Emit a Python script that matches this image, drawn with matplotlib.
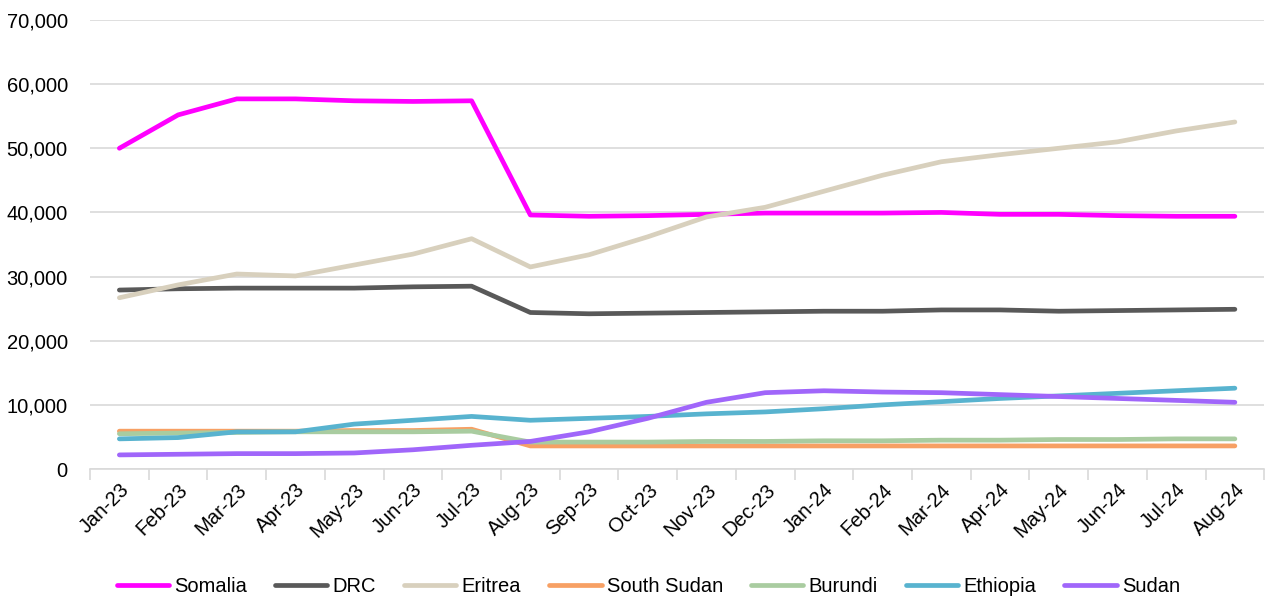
import numpy as np
import matplotlib.pyplot as plt
from matplotlib.ticker import FuncFormatter, FixedLocator

plt.rcParams['font.family'] = ['Liberation Sans', 'DejaVu Sans']

months = ['Jan-23', 'Feb-23', 'Mar-23', 'Apr-23', 'May-23', 'Jun-23', 'Jul-23',
          'Aug-23', 'Sep-23', 'Oct-23', 'Nov-23', 'Dec-23', 'Jan-24', 'Feb-24',
          'Mar-24', 'Apr-24', 'May-24', 'Jun-24', 'Jul-24', 'Aug-24']

somalia = [50000, 55200, 57700, 57700, 57400, 57300, 57400, 39600, 39400, 39500,
           39700, 39900, 39900, 39900, 40000, 39700, 39700, 39500, 39400, 39400]
drc = [27900, 28100, 28200, 28200, 28200, 28400, 28500, 24400, 24200, 24300,
       24400, 24500, 24600, 24600, 24800, 24800, 24600, 24700, 24800, 24900]
eritrea = [26700, 28700, 30400, 30100, 31800, 33500, 35900, 31500, 33400, 36200,
           39300, 40800, 43300, 45800, 47900, 49000, 50000, 51000, 52700, 54100]
south_sudan = [5900, 5900, 5900, 5900, 6000, 6000, 6200, 3600, 3600, 3600,
               3600, 3600, 3600, 3600, 3600, 3600, 3600, 3600, 3600, 3600]
burundi = [5500, 5600, 5700, 5800, 5800, 5800, 5900, 4200, 4200, 4200,
           4300, 4300, 4400, 4400, 4500, 4500, 4600, 4600, 4700, 4700]
ethiopia = [4700, 4900, 5800, 5800, 7000, 7600, 8200, 7600, 7900, 8200,
            8600, 8900, 9400, 10000, 10500, 11000, 11400, 11800, 12200, 12600]
sudan = [2200, 2300, 2400, 2400, 2500, 3000, 3700, 4300, 5800, 7900,
         10400, 11900, 12200, 12000, 11900, 11600, 11300, 11000, 10700, 10400]

series = [
    ('Somalia', somalia, '#ff00ff'),
    ('DRC', drc, '#595959'),
    ('Eritrea', eritrea, '#d8d0bd'),
    ('South Sudan', south_sudan, '#f7a064'),
    ('Burundi', burundi, '#a9cca0'),
    ('Ethiopia', ethiopia, '#58b3cf'),
    ('Sudan', sudan, '#a066fa'),
]

fig = plt.figure(figsize=(12.66, 6.0), dpi=100)
ax = fig.add_axes([0.0711, 0.2183, 0.9275, 0.7484])

x = np.arange(len(months))
for name, vals, color in series:
    ax.plot(x, vals, color=color, lw=3.4, label=name, solid_capstyle='round')

ax.set_xlim(-0.5, len(months) - 0.5)
ax.set_ylim(0, 70000)
ax.set_yticks(range(0, 70001, 10000))
ax.yaxis.set_major_formatter(FuncFormatter(lambda v, p: f'{int(v):,}'))
ax.grid(axis='y', color='#d9d9d9', lw=1.2)
ax.set_axisbelow(True)

ax.set_xticks(x)
ax.set_xticklabels(months, rotation=45, ha='right', rotation_mode='anchor')
ax.xaxis.set_minor_locator(FixedLocator(np.arange(-0.5, len(months), 1)))
ax.tick_params(axis='x', which='major', length=0, pad=8, labelsize=14.5)
ax.tick_params(axis='x', which='minor', length=8, color='#d9d9d9', width=1.2)
ax.tick_params(axis='y', length=0, pad=16, labelsize=14.5)

for s in ['top', 'right', 'left']:
    ax.spines[s].set_visible(False)
ax.spines['bottom'].set_color('#d9d9d9')
ax.spines['bottom'].set_linewidth(1.2)

fig.legend(loc='center', bbox_to_anchor=(0.512, 0.022), ncol=7, frameon=False,
           fontsize=14.5, handlelength=2.6, columnspacing=1.4, handletextpad=0.25)

fig.savefig('out.png', dpi=100)
